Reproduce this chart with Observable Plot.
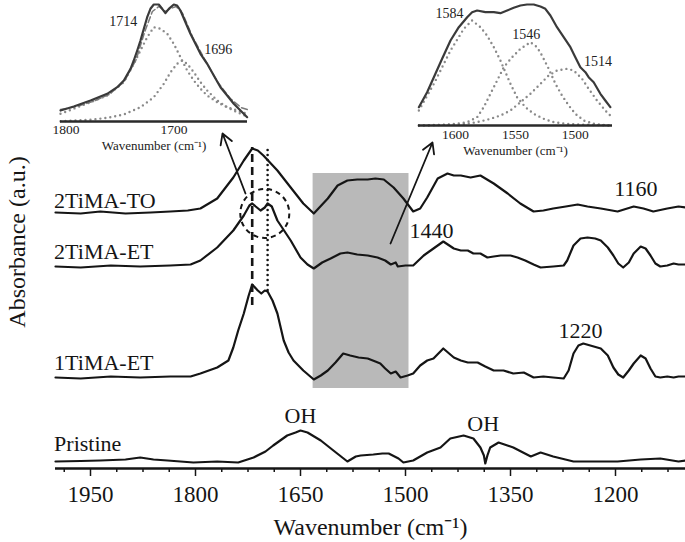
<!DOCTYPE html>
<html><head><meta charset="utf-8">
<script src="https://cdn.jsdelivr.net/npm/d3@7"></script>
<script src="https://cdn.jsdelivr.net/npm/@observablehq/plot@0.6"></script>
<style>
html,body{margin:0;padding:0;background:#fff;overflow:hidden}
#wrap{position:relative;width:685px;height:542px}
#wrap svg{position:absolute;overflow:visible}
</style></head><body><div id="wrap"></div>
<script>
// ---- main spectra: [wavenumber, absorbance above own baseline] ----
const spec2TO = [[2000,0],[1964,-0.01],[1936,0.01],[1900,-0.01],[1864,0],[1836,0.01],[1811,0.02],[1793,0.04],[1769,0.14],[1746,0.35],[1731,0.52],[1719,0.64],[1711,0.62],[1703,0.57],[1683,0.42],[1664,0.25],[1646,0.09],[1631,-0.01],[1611,0.14],[1597,0.27],[1583,0.32],[1569,0.33],[1554,0.33],[1543,0.34],[1531,0.33],[1517,0.25],[1503,0.14],[1489,0.01],[1479,0.04],[1469,0.15],[1454,0.34],[1440,0.39],[1431,0.37],[1421,0.37],[1407,0.35],[1393,0.37],[1374,0.29],[1354,0.19],[1336,0.09],[1317,0.01],[1303,0.02],[1289,0.04],[1271,0.06],[1254,0.08],[1240,0.06],[1221,0.04],[1197,0.01],[1174,0.06],[1160,0.04],[1146,0.01],[1126,0.04],[1110,0.06],[1100,0.05]];
const spec2ET = [[2000,0],[1964,-0.01],[1921,0.01],[1879,0],[1836,0.01],[1807,0.02],[1793,0.06],[1769,0.19],[1746,0.36],[1731,0.51],[1723,0.61],[1719,0.63],[1714,0.60],[1707,0.56],[1701,0.59],[1697,0.63],[1691,0.60],[1683,0.46],[1664,0.26],[1650,0.09],[1640,0.02],[1631,-0.02],[1619,0.04],[1607,0.08],[1593,0.13],[1583,0.14],[1569,0.12],[1554,0.11],[1540,0.09],[1529,0.06],[1521,0.02],[1514,0.04],[1511,0],[1500,0.01],[1489,0.01],[1474,0.11],[1460,0.18],[1446,0.25],[1431,0.18],[1421,0.16],[1411,0.16],[1403,0.13],[1393,0.13],[1383,0.09],[1374,0.10],[1364,0.11],[1350,0.11],[1340,0.09],[1329,0.06],[1317,0.02],[1307,-0.01],[1289,0],[1274,0.01],[1269,0.06],[1260,0.21],[1250,0.28],[1240,0.29],[1229,0.28],[1221,0.26],[1211,0.19],[1203,0.11],[1196,0.03],[1189,-0.01],[1181,0.04],[1174,0.13],[1164,0.20],[1157,0.18],[1150,0.11],[1143,0.03],[1136,0],[1126,0.01],[1117,0.03],[1110,0.02],[1100,0.02]];
const spec1ET = [[2000,0],[1964,-0.01],[1921,0.01],[1879,0],[1836,0.01],[1807,0.01],[1793,0.04],[1769,0.10],[1753,0.17],[1746,0.30],[1739,0.47],[1731,0.64],[1724,0.82],[1719,0.93],[1711,0.87],[1706,0.84],[1701,0.87],[1697,0.86],[1690,0.77],[1683,0.64],[1674,0.37],[1667,0.25],[1660,0.17],[1646,0.07],[1631,-0.02],[1621,0.02],[1611,0.07],[1600,0.15],[1589,0.24],[1579,0.22],[1567,0.20],[1554,0.19],[1543,0.16],[1536,0.14],[1529,0.09],[1521,0.04],[1514,0.06],[1507,0],[1497,0.02],[1489,0.04],[1479,0.12],[1469,0.17],[1460,0.19],[1446,0.29],[1431,0.20],[1421,0.17],[1411,0.15],[1397,0.15],[1386,0.11],[1374,0.07],[1360,0.07],[1346,0.04],[1331,0.05],[1317,0],[1303,0.01],[1289,0],[1274,-0.01],[1267,0.07],[1260,0.24],[1253,0.32],[1246,0.34],[1236,0.32],[1221,0.29],[1211,0.22],[1203,0.10],[1196,0.03],[1189,0],[1181,0.07],[1174,0.14],[1164,0.22],[1157,0.19],[1150,0.09],[1143,0.01],[1136,0],[1126,0.01],[1117,0],[1110,0.01],[1100,0.01]];
const specPristine = [[2000,0],[1964,0.005],[1936,0.01],[1900,0.02],[1879,0.04],[1860,0.02],[1840,0.01],[1803,-0.01],[1769,0],[1739,-0.01],[1717,0.04],[1700,0.10],[1689,0.16],[1669,0.26],[1657,0.29],[1650,0.31],[1640,0.29],[1621,0.21],[1603,0.11],[1583,0],[1571,0.05],[1564,0.06],[1546,0.07],[1533,0.08],[1524,0.08],[1510,0.03],[1503,-0.01],[1489,0.01],[1469,0.09],[1450,0.14],[1436,0.23],[1417,0.26],[1403,0.23],[1393,0.14],[1388,0.06],[1386,-0.02],[1383,0.06],[1379,0.14],[1367,0.19],[1346,0.14],[1321,0.05],[1307,0.09],[1289,0.05],[1260,0],[1221,0],[1197,0],[1164,0.02],[1136,0.03],[1110,0],[1100,0.01]];

const seriesNames = ["2TiMA-TO", "2TiMA-ET", "1TiMA-ET", "Pristine"];
const seriesData = [spec2TO, spec2ET, spec1ET, specPristine];
const seriesOffsets = [2.56, 2.02, 0.91, 0.07];
const seriesLabelY = [2.61, 2.10, 0.99, 0.18];

// ---- annotations ----
const peakLabels = ["1160", "1440", "1220", "OH", "OH"];
const peakLabelWn = [1171, 1463, 1250, 1650, 1389];
const peakLabelY = [2.73, 2.31, 1.31, 0.46, 0.38];
const shadedWn = [1632, 1495];
const shadedAbs = [0.80, 2.95];
const markerWn = [1719, 1697];          // dashed, dotted
const markerAbs = [[1.63, 3.21], [1.78, 3.21]];
const circleCenter = [1701, 2.55];
const arrowsFrom = [[1728.6, 2.75], [1521.4, 2.25]];
const arrowsTo = [[1761.4, 3.35], [1461.4, 3.26]];
const majorTicks = [1950, 1800, 1650, 1500, 1350, 1200];

// ---- inset 1 (1800-1630) ----
const in1Measured = [[1805,0.11],[1792.7,0.15],[1777.2,0.21],[1761.8,0.277],[1752.5,0.343],[1746.4,0.41],[1740.2,0.527],[1737.2,0.61],[1734,0.71],[1731,0.81],[1727.9,0.927],[1724.8,1.043],[1721.8,1.127],[1718.7,1.17],[1714.1,1.17],[1710.9,1.127],[1707.9,1.083],[1704.8,1.127],[1700.2,1.17],[1697.1,1.16],[1694,1.11],[1689.4,0.993],[1684.8,0.877],[1678.5,0.743],[1675.5,0.677],[1669.3,0.577],[1663.2,0.46],[1657,0.343],[1650.8,0.26],[1644.7,0.177],[1638.5,0.11],[1632.3,0.043]];
const in1Fit = [[1805,0.12],[1790,0.15],[1775,0.2],[1760,0.27],[1746,0.40],[1735,0.62],[1727,0.90],[1720,1.10],[1714,1.15],[1708,1.10],[1703,1.13],[1698,1.15],[1692,1.08],[1683,0.85],[1672,0.63],[1660,0.40],[1648,0.23],[1638,0.14],[1632,0.12]];
const in1Peak1714 = [[1805,0.077],[1777.2,0.193],[1761.8,0.26],[1746.4,0.393],[1737.2,0.577],[1731,0.71],[1724.8,0.843],[1718.7,0.943],[1712.5,0.927],[1706.2,0.877],[1700.2,0.777],[1694,0.643],[1687.8,0.51],[1681.7,0.41],[1675.5,0.327],[1669.3,0.26],[1660,0.193],[1650.8,0.143],[1641.5,0.11],[1632.3,0.077]];
const in1Peak1696 = [[1805,0.003],[1777.2,0.017],[1761.8,0.037],[1746.4,0.07],[1731,0.143],[1718.7,0.243],[1709.4,0.377],[1703.2,0.493],[1697.1,0.577],[1692.4,0.61],[1687.8,0.577],[1681.7,0.493],[1675.5,0.393],[1669.3,0.31],[1660,0.21],[1650.8,0.143],[1641.5,0.093],[1632.3,0.05]];
const in1Ticks = [1800, 1700];
const in1Labels = ["1714", "1696"];
const in1LabelWn = [1747, 1659];
const in1LabelY = [0.96, 0.68];

// ---- inset 2 (1630-1470) ----
const in2Measured = [[1630.5,0.183],[1623.6,0.333],[1618,0.483],[1611.1,0.667],[1604.1,0.85],[1597.2,0.983],[1590.2,1.083],[1586.1,1.133],[1581.9,1.15],[1575,1.133],[1568,1.133],[1562.5,1.123],[1556.9,1.15],[1551.4,1.177],[1545.8,1.2],[1540.3,1.21],[1534.7,1.21],[1529.1,1.19],[1525,1.167],[1520.8,1.1],[1515.3,0.983],[1509.7,0.883],[1504.1,0.783],[1500,0.683],[1495.8,0.583],[1491.6,0.533],[1488.9,0.483],[1484.7,0.433],[1479.1,0.317],[1475,0.25],[1470.8,0.183]];
const in2Peak1584 = [[1630.5,0.15],[1618,0.417],[1604.1,0.75],[1593,0.967],[1586.1,1.05],[1579.1,0.983],[1573.6,0.9],[1568,0.783],[1562.5,0.65],[1558.3,0.533],[1554.1,0.417],[1548.6,0.283],[1541.6,0.183],[1534.7,0.117],[1526.4,0.067],[1518,0.033],[1506.9,0.017],[1495.8,0.01],[1470.8,0]];
const in2Peak1546 = [[1630.5,0],[1604.1,0.01],[1590.2,0.033],[1581.9,0.083],[1576.4,0.183],[1570.8,0.317],[1565.2,0.45],[1559.7,0.583],[1552.7,0.683],[1545.8,0.767],[1537.5,0.833],[1531.9,0.783],[1527.8,0.7],[1522.2,0.567],[1516.6,0.417],[1511.1,0.3],[1505.5,0.2],[1500,0.117],[1493,0.05],[1484.7,0.017],[1470.8,0]];
const in2Peak1514 = [[1630.5,0],[1595.8,0.01],[1581.9,0.033],[1570.8,0.067],[1562.5,0.1],[1554.1,0.15],[1545.8,0.233],[1537.5,0.317],[1529.1,0.417],[1522.2,0.5],[1515.3,0.55],[1506.9,0.567],[1501.3,0.55],[1494.4,0.467],[1488.9,0.367],[1481.9,0.25],[1475,0.15],[1469.4,0.083]];
const in2Ticks = [1600, 1550, 1500];
const in2Labels = ["1584", "1546", "1514"];
const in2LabelWn = [1605, 1541, 1481];
const in2LabelY = [1.08, 0.87, 0.60];

const FONT = '"Liberation Serif","Times New Roman",Times,serif';
const INK = "#151515";

// build tidy table
const rows = [];
seriesNames.forEach((name, i) => seriesData[i].forEach(([w, a]) => rows.push({series: name, wn: w, abs: a + seriesOffsets[i]})));
const labelRows = seriesNames.map((name, i) => ({text: name, wn: 2002, abs: seriesLabelY[i]}));
const peakRows = peakLabels.map((t, i) => ({text: t, wn: peakLabelWn[i], abs: peakLabelY[i]}));
const minorTicks = d3.range(1987.5, 1100, -37.5).filter(t => !majorTicks.includes(t));

const main = Plot.plot({
  width: 685, height: 542,
  marginLeft: 55, marginRight: 0, marginTop: 0, marginBottom: 74,
  x: {domain: [2000, 1100]},
  y: {domain: [0, 4.68], axis: null},
  style: {fontFamily: FONT, color: INK, background: "transparent"},
  marks: [
    Plot.rect([0], {x1: () => shadedWn[0], x2: () => shadedWn[1], y1: () => shadedAbs[0], y2: () => shadedAbs[1], fill: "#b9b9b9"}),
    Plot.line(rows, {x: "wn", y: "abs", z: "series", stroke: INK, strokeWidth: 2.2, strokeLinejoin: "round"}),
    Plot.ruleX([markerWn[0]], {x: d => d, y1: markerAbs[0][0], y2: markerAbs[0][1], stroke: INK, strokeWidth: 2.6, strokeDasharray: "8,5"}),
    Plot.ruleX([markerWn[1]], {x: d => d, y1: markerAbs[1][0], y2: markerAbs[1][1], stroke: INK, strokeWidth: 2.6, strokeDasharray: "0,5", strokeLinecap: "round"}),
    Plot.dot([circleCenter], {x: d => d[0], y: d => d[1], r: 24.5, stroke: INK, strokeWidth: 2, strokeDasharray: "5,4", fill: "none"}),
    Plot.arrow([0, 1], {x1: i => arrowsFrom[i][0], y1: i => arrowsFrom[i][1], x2: i => arrowsTo[i][0], y2: i => arrowsTo[i][1], stroke: INK, strokeWidth: 1.8, headLength: 10, bend: 0}),
    Plot.text(labelRows, {x: "wn", y: "abs", text: "text", textAnchor: "start", lineAnchor: "bottom", fontSize: 22, fill: INK}),
    Plot.text(peakRows, {x: "wn", y: "abs", text: "text", textAnchor: "middle", lineAnchor: "bottom", fontSize: 22, fill: INK}),
    Plot.text(["Absorbance (a.u.)"], {x: 2044, y: 2.265, text: d => d, rotate: -90, textAnchor: "middle", lineAnchor: "bottom", fontSize: 24, fill: INK}),
    Plot.ruleY([0], {stroke: INK, strokeWidth: 2.6}),
    Plot.axisX(minorTicks, {tickSize: 4, tickFormat: () => "", label: null, strokeWidth: 1.5}),
    Plot.axisX(majorTicks, {tickSize: 8, tickPadding: 9, fontSize: 23, label: null, strokeWidth: 1.5, tickFormat: d => String(d)}),
    Plot.text(["Wavenumber (cm\u207B\u00B9)"], {frameAnchor: "bottom", dy: 66, text: d => d, lineAnchor: "bottom", fontSize: 24, fill: INK})
  ]
});
main.style.left = "0px"; main.style.top = "0px";

function inset({left, width, height, ml, mr, mb, domain, ymax, measured, fit, comps, ticks, tickPad, titleDy, labels, labelWn, labelY}) {
  const labelData = labels.map((t, i) => ({t, w: labelWn[i], a: labelY[i]}));
  const marks = [
    ...comps.map(c => Plot.line(c, {x: d => d[0], y: d => d[1], stroke: "#8a8a8a", strokeWidth: 2.4, strokeDasharray: "0,5", strokeLinecap: "round"})),
  ];
  if (fit) marks.push(Plot.line(fit, {x: d => d[0], y: d => d[1], stroke: "#7a7a7a", strokeWidth: 1.5, strokeDasharray: "6,3"}));
  marks.push(
    Plot.line(measured, {x: d => d[0], y: d => d[1], stroke: "#3a3a3a", strokeWidth: 2.2, strokeLinejoin: "round"}),
    Plot.ruleY([0], {stroke: "#2a2a2a", strokeWidth: 2.6}),
    Plot.axisX(ticks, {tickSize: 0, tickPadding: tickPad, fontSize: 13.5, label: null, tickFormat: d => String(d)}),
    Plot.text(["Wavenumber (cm\u207B\u00B9)"], {frameAnchor: "bottom", dy: titleDy, text: d => d, lineAnchor: "bottom", fontSize: 13, fill: "#222"}),
    Plot.text(labelData, {x: "w", y: "a", text: "t", textAnchor: "middle", lineAnchor: "bottom", fontSize: 14, fill: "#222"})
  );
  const svg = Plot.plot({
    width, height, marginLeft: ml, marginRight: mr, marginTop: 0, marginBottom: mb,
    x: {domain}, y: {domain: [0, ymax], axis: null},
    style: {fontFamily: FONT, color: "#222", background: "transparent"},
    marks
  });
  svg.style.left = left + "px"; svg.style.top = "0px";
  return svg;
}

const inset1 = inset({left: 40, width: 220, height: 160, ml: 20, mr: 13, mb: 39, domain: [1805, 1632], ymax: 1.21,
  measured: in1Measured, fit: in1Fit, comps: [in1Peak1714, in1Peak1696], ticks: in1Ticks, tickPad: 3, titleDy: 28.5,
  labels: in1Labels, labelWn: in1LabelWn, labelY: in1LabelY});
const inset2 = inset({left: 400, width: 230, height: 160, ml: 18, mr: 18, mb: 35, domain: [1630.8, 1469], ymax: 1.25,
  measured: in2Measured, fit: null, comps: [in2Peak1584, in2Peak1546, in2Peak1514], ticks: in2Ticks, tickPad: 4, titleDy: 29.5,
  labels: in2Labels, labelWn: in2LabelWn, labelY: in2LabelY});

const wrap = document.getElementById("wrap");
wrap.append(main, inset1, inset2);
</script></body></html>
